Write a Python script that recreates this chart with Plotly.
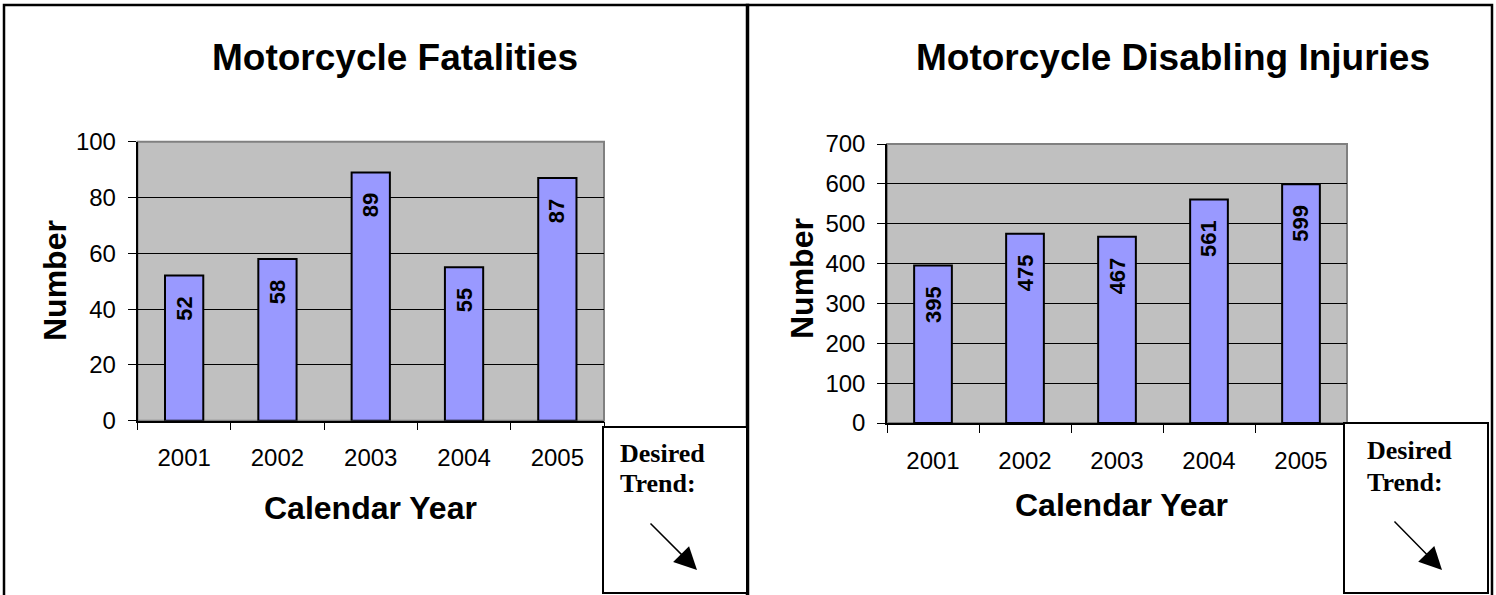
import plotly.graph_objects as go

# data
years = ["2001", "2002", "2003", "2004", "2005"]
fatalities = [52, 58, 89, 55, 87]
injuries = [395, 475, 467, 561, 599]

W, H = 1496, 595


def px(x):
    return x / W


def py(y):
    return 1 - y / H


BAR = "#9999FF"
BG = "#C0C0C0"
SANS = "Liberation Sans, Arial, sans-serif"
SERIF = "Liberation Serif, Times New Roman, serif"

fig = go.Figure()

fig.add_trace(go.Bar(x=years, y=fatalities, xaxis="x", yaxis="y",
                     marker=dict(color=BAR, line=dict(color="black", width=2)),
                     width=0.41, hoverinfo="x+y"))
fig.add_trace(go.Bar(x=years, y=injuries, xaxis="x2", yaxis="y2",
                     marker=dict(color=BAR, line=dict(color="black", width=2)),
                     width=0.41, hoverinfo="x+y"))

xaxis_common = dict(type="category", range=[-0.5, len(years) - 0.5], tickson="boundaries",
                    ticks="outside", ticklen=8, tickcolor="black", tickwidth=1,
                    showline=True, linecolor="black", linewidth=1.5, showgrid=False,
                    ticklabelstandoff=15, automargin=False, tickangle=0,
                    tickfont=dict(family=SANS, size=24, color="black"), fixedrange=True)
yaxis_common = dict(ticks="outside", ticklen=8, tickcolor="black", tickwidth=1,
                    showline=True, linecolor="black", linewidth=1.5, showgrid=True,
                    gridcolor="black", gridwidth=1, zeroline=False, ticklabelstandoff=7,
                    automargin=False,
                    tickfont=dict(family=SANS, size=24, color="black"), fixedrange=True)

fig.update_layout(
    width=W, height=H,
    margin=dict(l=0, r=0, t=0, b=0, pad=0),
    paper_bgcolor="white",
    plot_bgcolor=BG,
    showlegend=False,
    xaxis=dict(domain=[px(137.5), px(604)], anchor="y", **xaxis_common),
    yaxis=dict(domain=[py(420.7), py(141.7)], anchor="x", range=[0, 100], dtick=20,
               **yaxis_common),
    xaxis2=dict(domain=[px(887), px(1347)], anchor="y2", **xaxis_common),
    yaxis2=dict(domain=[py(423), py(144)], anchor="x2", range=[0, 700], dtick=100,
                **yaxis_common),
)

shapes = []
# grey plot-area frame (top / right edges)
for xr, yr in (("x domain", "y domain"), ("x2 domain", "y2 domain")):
    shapes.append(dict(type="rect", xref=xr, yref=yr, x0=0, x1=1, y0=0, y1=1,
                       line=dict(color="#808080", width=2), layer="below"))
# panel borders
shapes.append(dict(type="rect", xref="paper", yref="paper", x0=px(4), x1=px(748),
                   y0=py(605), y1=py(5), line=dict(color="black", width=2.5)))
shapes.append(dict(type="rect", xref="paper", yref="paper", x0=px(747), x1=px(1492),
                   y0=py(605), y1=py(5), line=dict(color="black", width=2.5)))
# "Desired Trend" boxes
shapes.append(dict(type="rect", xref="paper", yref="paper", x0=px(603), x1=px(747),
                   y0=py(593), y1=py(427), fillcolor="white",
                   line=dict(color="black", width=2)))
shapes.append(dict(type="rect", xref="paper", yref="paper", x0=px(1344), x1=px(1488),
                   y0=py(593), y1=py(423), fillcolor="white",
                   line=dict(color="black", width=2)))
fig.update_layout(shapes=shapes)


def note(text, x, y, size, family=SANS, **kw):
    d = dict(text=text, x=x, y=y, xref="paper", yref="paper", showarrow=False,
             xanchor="center", yanchor="middle",
             font=dict(family=family, size=size, color="black"))
    d.update(kw)
    return d


ann = []
# chart titles
ann.append(note("<b>Motorcycle Fatalities</b>", px(395), py(58), 37))
ann.append(note("<b>Motorcycle Disabling Injuries</b>", px(1173), py(58), 37))
# axis titles
for cx, cy in ((370, 508), (1121, 505)):
    ann.append(note("<b>Calendar Year</b>", px(cx), py(cy), 32))
for cx, cy in ((55, 281), (802, 279)):
    ann.append(note("<b>Number</b>", px(cx), py(cy), 32, textangle=-90))

# value labels inside the bars, rotated
for xa, ya, vals in (("x", "y", fatalities), ("x2", "y2", injuries)):
    for i, v in enumerate(vals):
        s = str(v)
        ann.append(dict(text="<b>%s</b>" % s, x=i, y=v, xref=xa, yref=ya,
                        showarrow=False, textangle=-90, xanchor="center",
                        yanchor="middle", yshift=-(20 + 6.5 * len(s)),
                        font=dict(family=SANS, size=22, color="black")))

# desired trend text + arrows
for lx, y1, y2, head, tail in ((618, 453, 483, (697, 570), (649, 522)),
                               (1365, 450, 482, (1442, 570), (1393, 520))):
    ann.append(note("<b>Desired</b>", px(lx), py(y1), 26, family=SERIF, xanchor="left"))
    ann.append(note("<b>Trend:</b>", px(lx), py(y2), 26, family=SERIF, xanchor="left"))
    ann.append(dict(text="", x=px(head[0]), y=py(head[1]), xref="paper", yref="paper",
                    showarrow=True, ax=tail[0] - head[0], ay=tail[1] - head[1],
                    arrowhead=2, arrowsize=3, arrowwidth=1.5, arrowcolor="black",
                    standoff=0))

fig.update_layout(annotations=ann)

# drop the browser's default 8px body margin so the figure sits at the page corner
fig.write_html("out.html", config={"displayModeBar": False},
               post_script="document.body.style.margin = '0';")
